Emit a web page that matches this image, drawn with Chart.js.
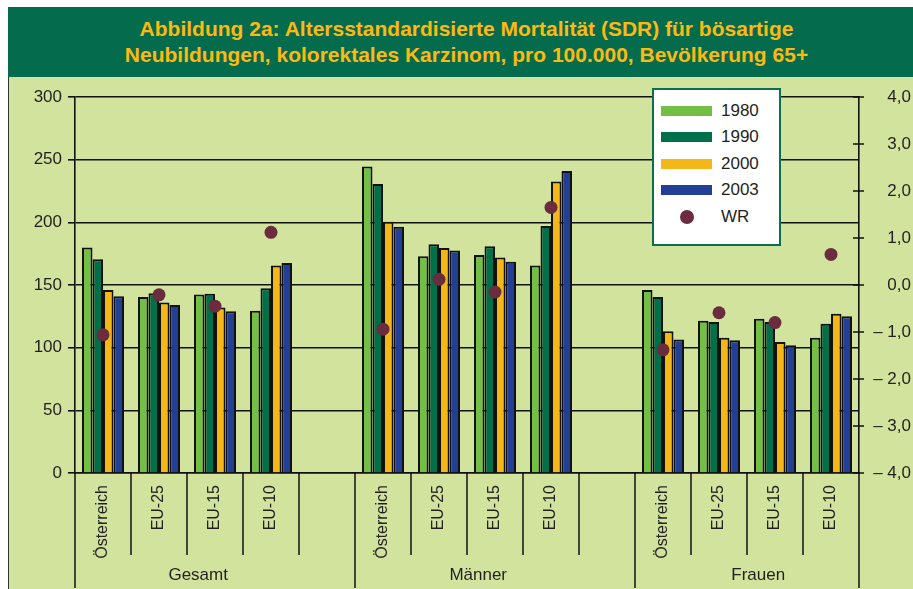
<!DOCTYPE html>
<html>
<head>
<meta charset="utf-8">
<title>Abbildung 2a</title>
<script src="https://cdn.jsdelivr.net/npm/chart.js@4.4.1/dist/chart.umd.min.js"></script>
<style>
	body { margin:0; padding:0; background:#fff; }
	#wrap { position:relative; width:913px; height:589px; background:#fff; overflow:hidden; font-family:"Liberation Sans", Arial, sans-serif; }
	#title { position:absolute; left:8px; top:7px; width:905px; height:70px; background:#046c4c; color:#fdb913;
		font-weight:bold; font-size:21px; line-height:26px; text-align:center; box-sizing:border-box; padding-top:9px; padding-left:12px; }
	#panel { position:absolute; left:8px; top:77px; width:904px; height:512px; background:#d1e39d; border-left:1px solid #333; }
	#chart { display:block; }
	#legend { position:absolute; left:652px; top:88px; width:125px; height:146px; background:#fff; border:2px solid #0b6e4f; padding-top:7.5px; box-sizing:content-box; }
	.row { position:relative; height:26.5px; }
	.sw { position:absolute; left:7px; top:8px; width:51px; height:10px; }
	.dot { position:absolute; left:26px; top:6px; width:14px; height:14px; border-radius:7px; }
	.lbl { position:absolute; left:67px; top:3px; font-size:17px; line-height:20px; color:#231f20; }
</style>
</head>
<body>
<div id="wrap">
	<div id="title">Abbildung 2a: Altersstandardisierte Mortalität (SDR) für bösartige<br>Neubildungen, kolorektales Karzinom, pro 100.000, Bevölkerung 65+</div>
	<div id="panel"><canvas id="chart" width="904" height="512"></canvas></div>
	<div id="legend"></div>
</div>
<script>
// categories (empty slot between the groups)
var categories = ["Österreich", "EU-25", "EU-15", "EU-10", "",
	"Österreich", "EU-25", "EU-15", "EU-10", "",
	"Österreich", "EU-25", "EU-15", "EU-10"];
var groupNames = ["Gesamt", "Männer", "Frauen"];
var groupSizes = [5, 5, 4];

// SDR per 100.000 (left axis)
var sdr1980 = [180, 140.5, 142.5, 129.5, null, 244.5, 173, 174, 165.5, null, 146, 121.5, 123, 108];
var sdr1990 = [170.5, 143.5, 143, 147.5, null, 230.5, 182.5, 181, 197, null, 140.5, 120.5, 120.5, 119];
var sdr2000 = [146, 136, 132, 165.5, null, 200.5, 179.5, 172, 232.5, null, 113, 108, 104.5, 127];
var sdr2003 = [141, 134, 129, 167.5, null, 196.5, 177.5, 168.5, 241, null, 106.5, 106, 102, 125];
// WR (right axis)
var wr = [-1.06, -0.21, -0.45, 1.12, null, -0.94, 0.12, -0.15, 1.65, null, -1.38, -0.59, -0.8, 0.65];

// axis ticks
var leftTicks = [0, 50, 100, 150, 200, 250, 300];
var rightTicks = [-4, -3, -2, -1, 0, 1, 2, 3, 4];

var seriesNames = ["1980", "1990", "2000", "2003", "WR"];
var seriesColors = ["#72bf44", "#00704a", "#f4b719", "#233f95", "#6a2c3e"];
var ink = "#111";
var txt = "#231f20";

//legend
var lg = document.getElementById("legend");
for (var i = 0; i < seriesNames.length; i++) {
	var row = document.createElement("div");
	row.className = "row";
	var mark = document.createElement("div");
	mark.className = (i < 4) ? "sw" : "dot";
	mark.style.background = seriesColors[i];
	var lbl = document.createElement("div");
	lbl.className = "lbl";
	lbl.textContent = seriesNames[i];
	row.appendChild(mark);
	row.appendChild(lbl);
	lg.appendChild(row);
}

function fmtRight(v) {
	var s = Math.abs(v).toFixed(1).replace(".", ",");
	return v < 0 ? "\u2013 " + s : s;
}

//dividers below the x axis, group labels, ticks across the right axis
var deco = {
	id: "deco",
	afterDraw: function(chart) {
		var ctx = chart.ctx;
		var xs = chart.scales.x;
		var y1 = chart.scales.y1;
		var bottom = chart.chartArea.bottom;
		var h = chart.height;
		ctx.save();
		ctx.strokeStyle = ink;
		ctx.lineWidth = 1.5;
		var start = 0;
		var edges = {};
		for (var g = 0; g < groupSizes.length; g++) {
			edges[start] = true;
			start += groupSizes[g];
		}
		edges[start] = true;
		for (var i = 0; i <= categories.length; i++) {
			var x = xs.getPixelForValue(i - 0.5);
			ctx.beginPath();
			ctx.moveTo(x, bottom);
			ctx.lineTo(x, edges[i] ? h - 1 : bottom + 82);
			ctx.stroke();
		}
		// ticks crossing the right axis
		for (var t = 0; t < rightTicks.length; t++) {
			var yy = y1.getPixelForValue(rightTicks[t]);
			ctx.beginPath();
			ctx.moveTo(y1.left - 6, yy);
			ctx.lineTo(y1.left + 5, yy);
			ctx.stroke();
		}
		// group labels
		ctx.fillStyle = txt;
		ctx.font = "17px 'Liberation Sans', Arial, sans-serif";
		ctx.textAlign = "center";
		ctx.textBaseline = "middle";
		start = 0;
		for (var g2 = 0; g2 < groupNames.length; g2++) {
			ctx.fillText(groupNames[g2], xs.getPixelForValue(start + 1.7), bottom + 102);
			start += groupSizes[g2];
		}
		ctx.restore();
	}
};

function barSet(name, data, color) {
	return {
		type: "bar",
		label: name,
		data: data,
		backgroundColor: color,
		borderColor: ink,
		borderWidth: 2,
		yAxisID: "y",
		order: 1
	};
}

var chartdata = {
	labels: categories,
	datasets: [
		{
			type: "line",
			label: "WR",
			data: wr,
			yAxisID: "y1",
			showLine: false,
			pointRadius: 6.5,
			pointHoverRadius: 6.5,
			pointBackgroundColor: seriesColors[4],
			pointBorderWidth: 0,
			order: 0
		},
		barSet("1980", sdr1980, seriesColors[0]),
		barSet("1990", sdr1990, seriesColors[1]),
		barSet("2000", sdr2000, seriesColors[2]),
		barSet("2003", sdr2003, seriesColors[3])
	]
};

var ctx = document.getElementById("chart");
var chart = new Chart(ctx, {
	type: "bar",
	data: chartdata,
	plugins: [deco],
	options: {
		responsive: false,
		animation: false,
		layout: { padding: { top: 20, right: 2, left: 0, bottom: 0 } },
		datasets: { bar: { categoryPercentage: 0.75, barPercentage: 1.0 } },
		plugins: {
			legend: { display: false },
			title: { display: false },
			tooltip: { enabled: false }
		},
		scales: {
			x: {
				offset: true,
				grid: { display: false },
				border: { display: true, color: ink, width: 1.5 },
				ticks: {
					autoSkip: false,
					maxRotation: 90,
					minRotation: 90,
					padding: 4,
					color: txt,
					font: { family: "'Liberation Sans', Arial, sans-serif", size: 16 }
				},
				afterFit: function(s) { s.height = 116; }
			},
			y: {
				position: "left",
				min: leftTicks[0],
				max: leftTicks[leftTicks.length - 1],
				afterBuildTicks: function(s) { s.ticks = leftTicks.map(function(v) { return { value: v }; }); },
				grid: { color: ink, lineWidth: 1.6, tickLength: 7 },
				border: { display: true, color: ink, width: 1.6 },
				ticks: {
					padding: 6,
					color: txt,
					font: { family: "'Liberation Sans', Arial, sans-serif", size: 17 }
				},
				afterFit: function(s) { s.width = 66; }
			},
			y1: {
				position: "right",
				min: rightTicks[0],
				max: rightTicks[rightTicks.length - 1],
				afterBuildTicks: function(s) { s.ticks = rightTicks.map(function(v) { return { value: v }; }); },
				grid: { drawOnChartArea: false, drawTicks: false },
				border: { display: true, color: ink, width: 1.6 },
				ticks: {
					crossAlign: "far",
					color: txt,
					font: { family: "'Liberation Sans', Arial, sans-serif", size: 17 },
					callback: function(v) { return fmtRight(v); }
				},
				afterFit: function(s) { s.width = 52; }
			}
		}
	}
});
</script>
</body>
</html>
